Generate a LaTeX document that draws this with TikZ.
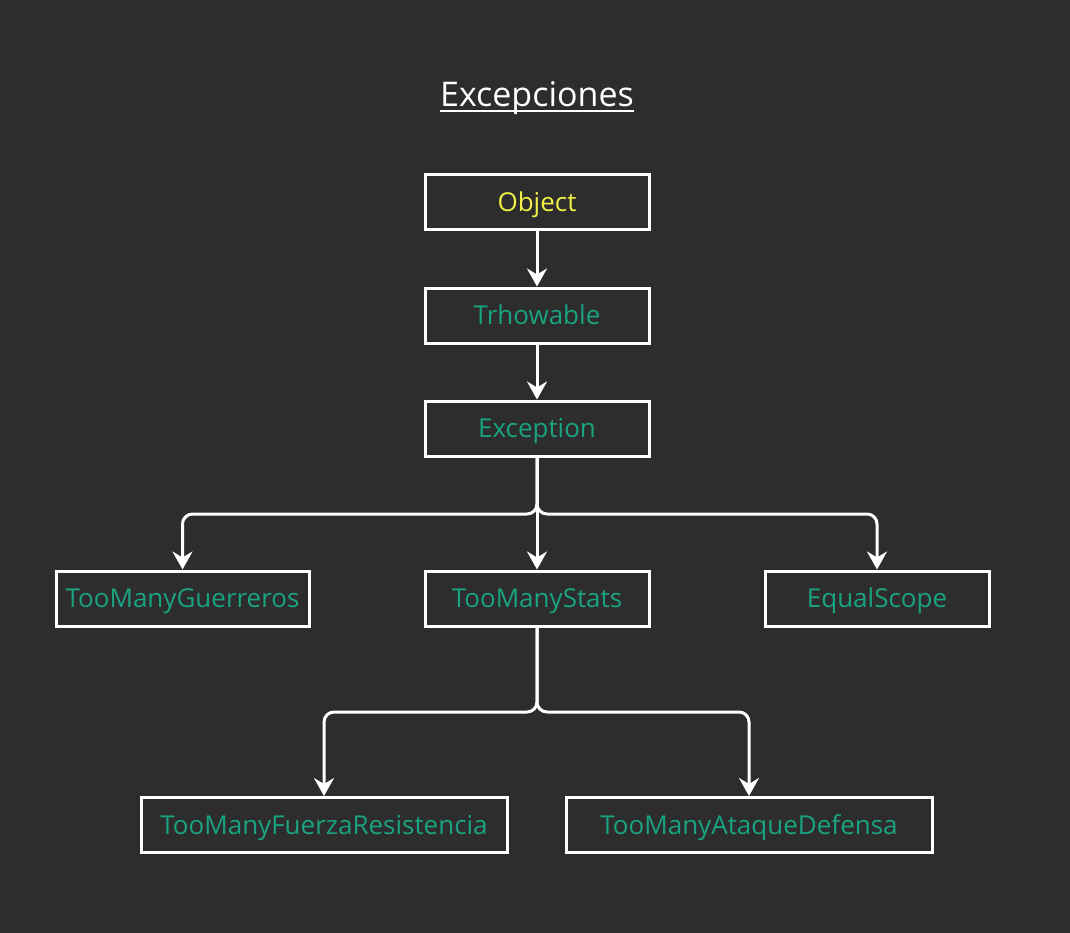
\documentclass[tikz,border=0pt]{standalone}
\usepackage{fontspec}
\setmainfont{Open Sans}
\usepackage{tikz}
\usetikzlibrary{arrows.meta}
\definecolor{darkbg}{RGB}{45, 45, 45}
\definecolor{niceteal}{RGB}{26, 163, 128}
\definecolor{niceyellow}{RGB}{240, 240, 70}

\begin{document}
\begin{tikzpicture}[x = 1pt, y = -1pt,
		cls/.style = {draw = white, line width = 3pt, minimum height = 55pt, inner sep = 0pt, text height = 18.5pt, text depth = 0pt, text = niceteal, font = \fontsize{26}{30}\selectfont},
		link/.style = {draw = white, line width = 3pt, rounded corners = 10pt, -{Stealth[length = 18pt, width = 20pt, inset = 6pt]}}]
		\fill[darkbg] (0,0) rectangle (1070,933);
		\useasboundingbox (0,0) rectangle (1070,933);
		\node (title) at (537,94.4) [inner sep = 0pt, text height = 24.3pt, text depth = 0pt, text = white, font = \fontsize{34}{40}\selectfont] {Excepciones};
		\draw[white, line width = 2.2pt] ([yshift = -4.5pt]title.base west) -- ([yshift = -4.5pt]title.base east);
		\node (obj) at (537,202.5) [cls, minimum width = 224pt, text = niceyellow] {Object};
		\node (thr) at (537,315.5) [cls, minimum width = 224pt] {Trhowable};
		\node (exc) at (537,428.5) [cls, minimum width = 224pt] {Exception};
		\node (tmg) at (182.5,598.5) [cls, minimum width = 253pt] {TooManyGuerreros};
		\node (tms) at (537,598.5) [cls, minimum width = 224pt] {TooManyStats};
		\node (eqs) at (877,598.5) [cls, minimum width = 224pt] {EqualScope};
		\node (tmf) at (324,825) [cls, minimum width = 366pt] {TooManyFuerzaResistencia};
		\node (tma) at (749,825) [cls, minimum width = 366pt] {TooManyAtaqueDefensa};
		\coordinate (split1) at (537,514);
		\coordinate (split2) at (537,712);
		\draw[link] (obj) -- (thr);
		\draw[link] (thr) -- (exc);
		\draw[link] (exc.south) -- (split1) -| (tmg.north);
		\draw[link] (exc) -- (tms);
		\draw[link] (exc.south) -- (split1) -| (eqs.north);
		\draw[link] (tms.south) -- (split2) -| (tmf.north);
		\draw[link] (tms.south) -- (split2) -| (tma.north);
\end{tikzpicture}
\end{document}
